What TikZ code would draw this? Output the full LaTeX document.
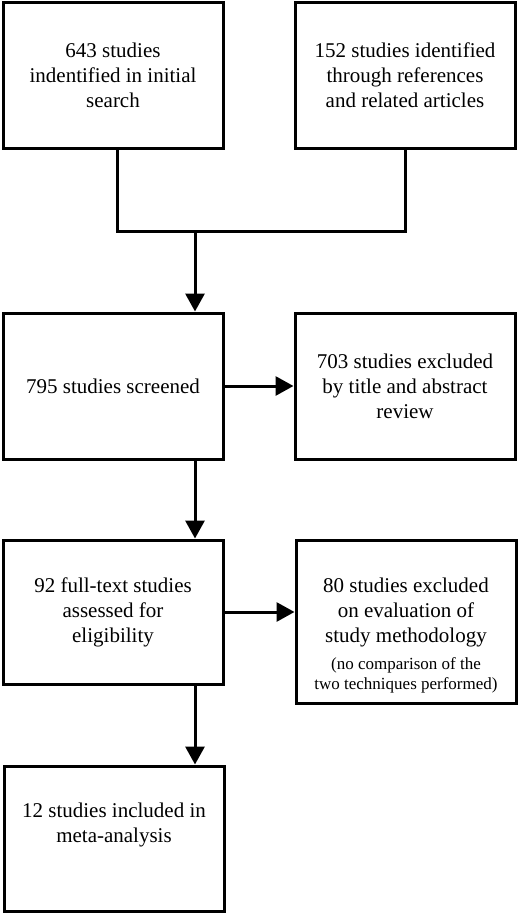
\documentclass[tikz,border=0pt]{standalone}
\usepackage{fontspec}
\setmainfont{Liberation Serif}
\usetikzlibrary{arrows.meta}
\begin{document}
\begin{tikzpicture}[x=1pt,y=-1pt,
  box/.style={draw=black, line width=3pt, fill=white, align=center,
    minimum width=220pt, inner sep=4pt,
    font=\fontsize{21pt}{25pt}\selectfont},
  conn/.style={line width=3pt},
  arr/.style={line width=3pt, -{Triangle[length=18pt,width=19pt]}}]
\useasboundingbox (0,0) rectangle (520,915);
\node[box, minimum height=145pt] (n1) at (113,75.5) {643 studies\\indentified in initial\\search};
\node[box, minimum height=145pt] (n2) at (405,75.5) {152 studies identified\\through references\\and related articles};
\node[box, minimum height=146pt] (n3) at (113,386) {795 studies screened};
\node[box, minimum height=146pt] (n4) at (405,386) {703 studies excluded\\by title and abstract\\review};
\node[box, minimum height=144pt] (n5) at (113,612) {92 full-text studies\\assessed for\\eligibility};
\node[box, minimum height=163pt] (n6) at (406,621.5) {\strut\\80 studies excluded\\on evaluation of\\study methodology\\[2pt]
  {\fontsize{17pt}{19pt}\selectfont (no comparison of the}\\[-5pt]{\fontsize{17pt}{19pt}\selectfont two techniques performed)}};
\node[box, minimum height=145pt] (n7) at (114,838.5) {12 studies included in\\meta-analysis\\\strut};
\coordinate (j) at (195,231);
\draw[conn] ([xshift=4pt]n1.south) |- (j) -| (n2.south);
\draw[arr] (j) -- (j |- n3.north);
\draw[arr] (j |- n3.south) -- (j |- n5.north);
\draw[arr] (j |- n5.south) -- (j |- n7.north);
\draw[arr] (n3.east) -- (n4.west |- n3.east);
\draw[arr] (n5.east) -- (n6.west |- n5.east);
\end{tikzpicture}
\end{document}
